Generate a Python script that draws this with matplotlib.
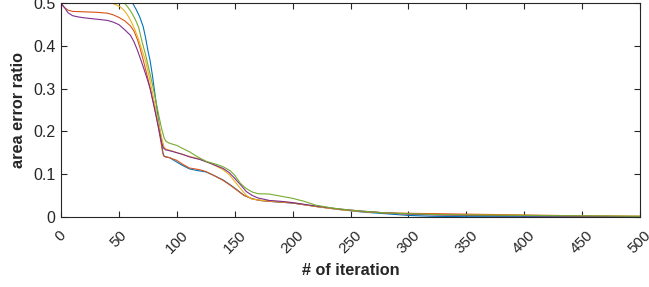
import matplotlib
matplotlib.use("Agg")
import matplotlib.pyplot as plt

plt.rcParams['font.family'] = ['Liberation Sans', 'DejaVu Sans']

# iteration values and area-error-ratio values
blue_x = [40, 50, 55, 59, 62, 65, 68, 71, 73, 75, 77, 79, 81, 83, 85, 86.5, 88, 89, 91, 94, 97,
          100, 105, 111, 118, 125, 131, 140, 146, 152, 158, 165, 172, 180, 190, 200, 220, 240,
          260, 280, 300, 320, 350, 400, 450, 500]
blue_y = [0.60, 0.56, 0.535, 0.515, 0.50, 0.485, 0.468, 0.445, 0.42, 0.39, 0.365, 0.33, 0.29, 0.25,
          0.21, 0.18, 0.15, 0.142, 0.140, 0.138, 0.133, 0.128, 0.120, 0.112, 0.108, 0.105, 0.098,
          0.086, 0.075, 0.063, 0.050, 0.042, 0.038, 0.036, 0.034, 0.032, 0.024, 0.017, 0.011,
          0.007, 0.003, 0.001, 0.0, 0.0, 0.0, 0.0]

orange_x = [0, 3, 6, 10, 20, 30, 40, 45, 50, 55, 60, 63, 66, 68, 71, 74, 77, 80, 82, 84, 86, 87.5,
            88.5, 90, 93, 96, 100, 105, 111, 120, 125, 131, 140, 146, 152, 158, 165, 172, 180,
            190, 200, 220, 240, 260, 280, 300, 325, 350, 400, 450, 500]
orange_y = [0.50, 0.49, 0.484, 0.481, 0.480, 0.479, 0.477, 0.473, 0.467, 0.459, 0.447, 0.435, 0.415,
            0.398, 0.367, 0.335, 0.30, 0.265, 0.24, 0.212, 0.18, 0.155, 0.143, 0.140, 0.139, 0.136,
            0.132, 0.123, 0.114, 0.110, 0.106, 0.098, 0.085, 0.074, 0.062, 0.050, 0.042, 0.038,
            0.036, 0.034, 0.032, 0.024, 0.017, 0.012, 0.009, 0.008, 0.007, 0.006, 0.004, 0.002, 0.001]

yellow_x = [30, 40, 44, 48, 51, 55, 58, 61, 64, 67, 70, 73, 76, 79, 82, 85, 87, 89, 91, 95, 100,
            110, 120, 130, 140, 145, 150, 155, 160, 165, 175, 190, 200, 220, 240, 260, 280, 300,
            325, 350, 400, 450, 500]
yellow_y = [0.53, 0.51, 0.50, 0.496, 0.492, 0.482, 0.47, 0.455, 0.437, 0.415, 0.39, 0.365, 0.33,
            0.29, 0.25, 0.21, 0.185, 0.163, 0.158, 0.155, 0.150, 0.142, 0.135, 0.124, 0.110, 0.099,
            0.083, 0.066, 0.050, 0.041, 0.038, 0.035, 0.033, 0.024, 0.017, 0.012, 0.009, 0.006,
            0.005, 0.004, 0.003, 0.002, 0.001]

purple_x = [0, 3, 6, 10, 15, 20, 30, 40, 45, 50, 55, 60, 63, 66, 69, 72, 75, 77, 79, 81, 83, 85,
            87, 88.5, 90, 93, 96, 100, 105, 111, 120, 130, 140, 145, 150, 155, 160, 165, 170,
            180, 190, 200, 210, 220, 240, 260, 280, 300, 325, 350, 400, 450, 500]
purple_y = [0.50, 0.49, 0.478, 0.471, 0.468, 0.466, 0.463, 0.460, 0.456, 0.450, 0.438, 0.425, 0.41,
            0.39, 0.367, 0.343, 0.318, 0.30, 0.275, 0.25, 0.224, 0.197, 0.172, 0.161, 0.157, 0.155,
            0.153, 0.150, 0.146, 0.140, 0.134, 0.124, 0.113, 0.104, 0.090, 0.075, 0.059, 0.050,
            0.044, 0.038, 0.036, 0.033, 0.029, 0.025, 0.018, 0.013, 0.009, 0.006, 0.004, 0.003,
            0.002, 0.001, 0.0]

green_x = [40, 50, 55, 58, 61, 64, 67, 70, 73, 76, 79, 82, 85, 87, 89, 90.5, 93, 95, 100, 105, 111,
           118, 126, 134, 140, 146, 150, 155, 160, 165, 170, 180, 190, 200, 210, 220, 235, 250,
           265, 280, 300, 325, 350, 400, 450, 500]
green_y = [0.55, 0.515, 0.50, 0.49, 0.478, 0.463, 0.444, 0.41, 0.38, 0.345, 0.31, 0.27, 0.23, 0.205,
           0.185, 0.177, 0.173, 0.171, 0.167, 0.160, 0.152, 0.140, 0.129, 0.123, 0.117, 0.108,
           0.097, 0.078, 0.066, 0.058, 0.054, 0.053, 0.048, 0.043, 0.036, 0.027, 0.020, 0.0155,
           0.012, 0.009, 0.007, 0.005, 0.004, 0.003, 0.002, 0.001]

series = [(blue_x, blue_y, '#0072BD'),
          (orange_x, orange_y, '#D95319'),
          (yellow_x, yellow_y, '#EDB120'),
          (purple_x, purple_y, '#7E2F8E'),
          (green_x, green_y, '#77AC30')]

xticks = [0, 50, 100, 150, 200, 250, 300, 350, 400, 450, 500]
yticks = [0, 0.1, 0.2, 0.3, 0.4, 0.5]
ytick_labels = ['0', '0.1', '0.2', '0.3', '0.4', '0.5']

fig = plt.figure(figsize=(6.49, 2.87), dpi=100)
ax = fig.add_axes([61/649, 70.3/287, 579/649, 213.4/287])

for xs, ys, c in series:
    ax.plot(xs, ys, color=c, lw=0.8)

ax.set_xlim(0, 500)
ax.set_ylim(0, 0.5)
ax.set_xticks(xticks)
ax.set_xticklabels([str(t) for t in xticks], rotation=45, ha='center', va='top')
ax.set_yticks(yticks)
ax.set_yticklabels(ytick_labels)

dark = '#262626'
for s in ax.spines.values():
    s.set_color(dark)
    s.set_linewidth(0.8)
ax.tick_params(direction='in', top=True, right=True, length=4, width=0.8,
               colors=dark, labelsize=11.5)
ax.tick_params(axis='x', pad=8, labelsize=11)
ax.tick_params(axis='y', pad=4)

ax.set_xlabel('# of iteration', fontsize=11.7, fontweight='bold', color=dark, labelpad=5)
ax.set_ylabel('area error ratio', fontsize=11.7, fontweight='bold', color=dark, labelpad=5)

fig.savefig('out.png', dpi=100)
